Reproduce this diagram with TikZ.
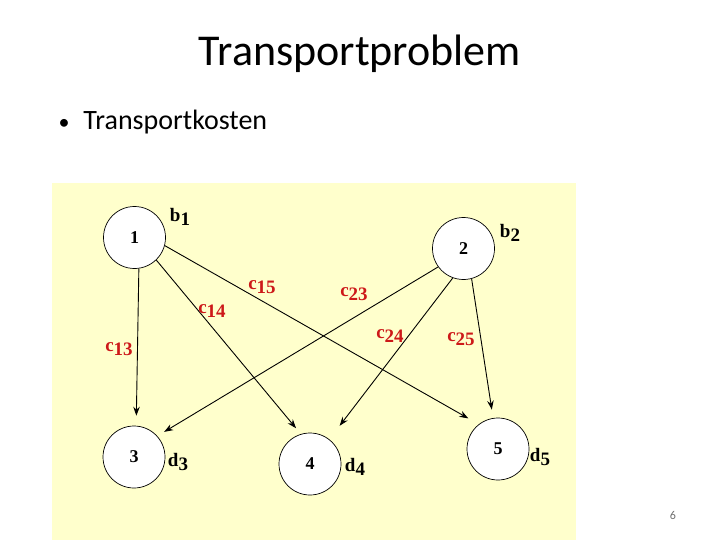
\documentclass[tikz,border=0pt]{standalone}
\usepackage{xcolor}
\usepackage{fontspec}
\usepackage{tikz}
\usetikzlibrary{arrows.meta}
\setmainfont{Carlito}
\newfontfamily\diagfont{Liberation Serif}
\definecolor{panelyellow}{RGB}{255, 255, 204}
\definecolor{costred}{RGB}{205, 25, 25}
\definecolor{pagegray}{RGB}{110, 110, 110}
\newcommand{\lowidx}[2]{#1\raisebox{-0.45ex}{#2}}
\tikzset{
    site/.style = {circle, draw=black, fill=white, line width=0.7pt, minimum size=62pt, inner sep=0pt, font=\diagfont\bfseries\fontsize{18}{18}\selectfont},
    amount/.style = {inner sep=1pt, font=\diagfont\bfseries\fontsize{19}{19}\selectfont},
    cost/.style = {inner sep=1pt, text=costred, font=\diagfont\bfseries\fontsize{19}{19}\selectfont},
    arrow/.style = {line width=0.9pt, -{Stealth[length=9pt, width=6.5pt]}}
}

\begin{document}
\begin{tikzpicture}[x=1pt, y=-1pt]
\useasboundingbox (0,0) rectangle (720,540);
\fill [panelyellow] (52,183) rectangle (576,540);

\node (title) at (360,54) {\fontsize{44}{44}\selectfont Transportproblem};
\node (bullet) [anchor=west] at (55,122) {\fontsize{28}{28}\selectfont {\fontsize{22}{22}\selectfont\textbullet}\hspace{14pt}Transportkosten};
\node (page) [text=pagegray] at (673,515) {\fontsize{12}{12}\selectfont 6};

% Anbieter und Nachfrager
\node (n1) [site] at (134.5,237.5) {1};
\node (n2) [site] at (463.5,248.5) {2};
\node (n3) [site] at (134,457) {3};
\node (n4) [site] at (310,464) {4};
\node (n5) [site] at (498,449) {5};

\node (b1) [amount] at (180,217) {\lowidx{b}{1}};
\node (b2) [amount] at (510,233) {\lowidx{b}{2}};
\node (d3) [amount] at (178,462) {\lowidx{d}{3}};
\node (d4) [amount] at (355,467) {\lowidx{d}{4}};
\node (d5) [amount] at (540,457) {\lowidx{d}{5}};

\draw [arrow, shorten >=10pt] (n1.-82) -- (n3.86);
\draw [arrow, shorten >=7.5pt] (n1.-46) -- (n4.107);
\draw [arrow, shorten >=12pt] (n1.-15) -- (n5.128);
\draw [arrow, shorten >=8pt] (n2.216) -- (n3.42);
\draw [arrow, shorten >=17pt] (n2.-110) -- (n4.52);
\draw [arrow, shorten >=8.5pt] (n2.-75) -- (n5.99);

\node (c13) [cost] at (119,349) {\lowidx{c}{13}};
\node (c14) [cost] at (212,311) {\lowidx{c}{14}};
\node (c15) [cost] at (262,287) {\lowidx{c}{15}};
\node (c23) [cost] at (354,294) {\lowidx{c}{23}};
\node (c24) [cost] at (390,336) {\lowidx{c}{24}};
\node (c25) [cost] at (461,339) {\lowidx{c}{25}};
\end{tikzpicture}
\end{document}
